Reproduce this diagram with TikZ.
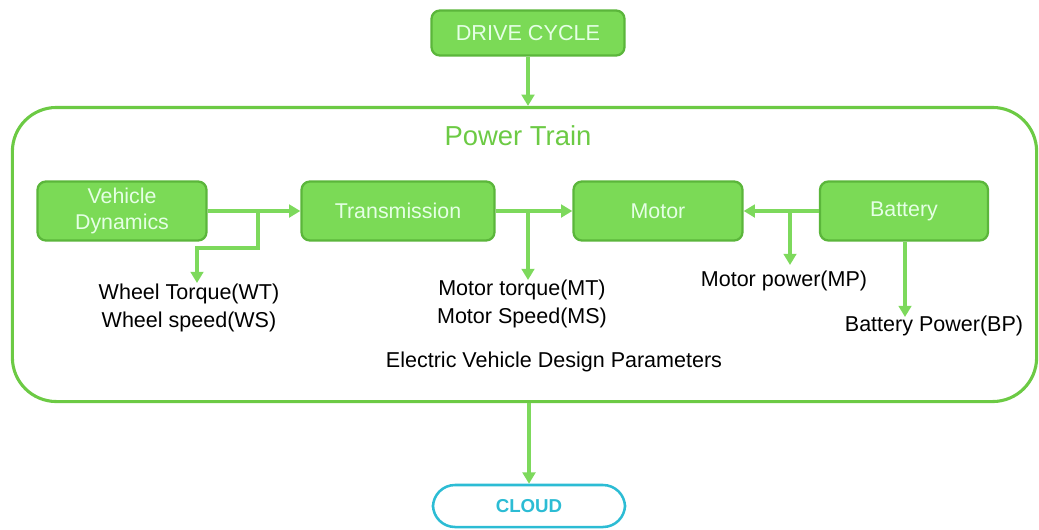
\documentclass[tikz,border=0pt]{standalone}
\usepackage{fontspec}
\setmainfont{Liberation Sans}
\usetikzlibrary{arrows.meta}
\definecolor{boxgreen}{HTML}{7BDA56}
\definecolor{edgegreen}{HTML}{5BB63B}
\definecolor{linegreen}{HTML}{7DD95C}
\definecolor{framegreen}{HTML}{6CCA44}
\definecolor{cloudcyan}{HTML}{2CBCD4}
\begin{document}
\begin{tikzpicture}[x=0.025cm,y=-0.025cm,
  block/.style={draw=edgegreen,line width=1.6pt,fill=boxgreen,rounded corners=6pt,
    text=white!90!green,font=\fontsize{15.2}{19}\selectfont,align=center,
    minimum height=1.475cm,inner sep=0pt},
  flow/.style={draw=linegreen,line width=2.2pt,-{Triangle[length=8pt,width=9pt]}},
  info/.style={font=\fontsize{15.3}{19.5}\selectfont,align=center,inner sep=0pt}]
\useasboundingbox (0,0) rectangle (1039,529);

% Frame
\node[draw=framegreen,line width=2.2pt,rounded corners=1.1cm,
  minimum width=25.6cm,minimum height=7.35cm] (pt) at (524.5,254.5) {};
\node[text=framegreen,font=\fontsize{19.5}{22}\selectfont] (title) at (518,136) {Power Train};

% Input and output
\node[block,minimum width=4.825cm,minimum height=1.125cm,font=\fontsize{15.4}{17}\selectfont] (dc) at (528,33) {DRIVE CYCLE};
\node[draw=cloudcyan,line width=1.8pt,rounded corners=0.55cm,minimum width=4.8cm,minimum height=1.05cm,
  text=cloudcyan,font=\fontsize{13.3}{15}\selectfont\bfseries] (cloud) at (529,506) {CLOUD};
\draw[flow] (dc.south) -- (dc.south |- pt.north);
\draw[flow] (pt.south -| cloud.north) -- (cloud.north);

% Blocks
\node[block,minimum width=4.225cm] (vd) at (122,211) {Vehicle\\Dynamics};
\node[block,minimum width=4.825cm] (tr) at (398,211) {Transmission};
\node[block,minimum width=4.225cm] (mo) at (658,211) {Motor};
\node[block,minimum width=4.2cm] (ba) at (904,211) {Battery};

% Parameters
\node[info,anchor=north] (ws) at (189,284) {Wheel Torque(WT)\\Wheel speed(WS)};
\node[info,anchor=north] (ms) at (522,280) {Motor torque(MT)\\Motor Speed(MS)};
\node[info,anchor=north] (mp) at (784,271) {Motor power(MP)};
\node[info,anchor=north] (bp) at (934,316) {Battery Power(BP)};
\node[info] (evd) at (554,362) {Electric Vehicle Design Parameters};

% Flows
\draw[flow] (vd.east) -- (tr.west);
\draw[flow] (tr.east) -- (mo.west);
\draw[flow] (ba.west) -- (mo.east);
\coordinate (s1) at (258,211);
\coordinate (s2) at (528,211);
\coordinate (s3) at (790,211);
\draw[flow] (s1) -- (258,248) -- (197,248) -- (197,283);
\draw[flow] (s2) -- (s2 |- ms.north);
\draw[flow] (s3) -- (790,265);
\draw[flow] (ba.south -| 905,0) -- (905,317);

\end{tikzpicture}
\end{document}
